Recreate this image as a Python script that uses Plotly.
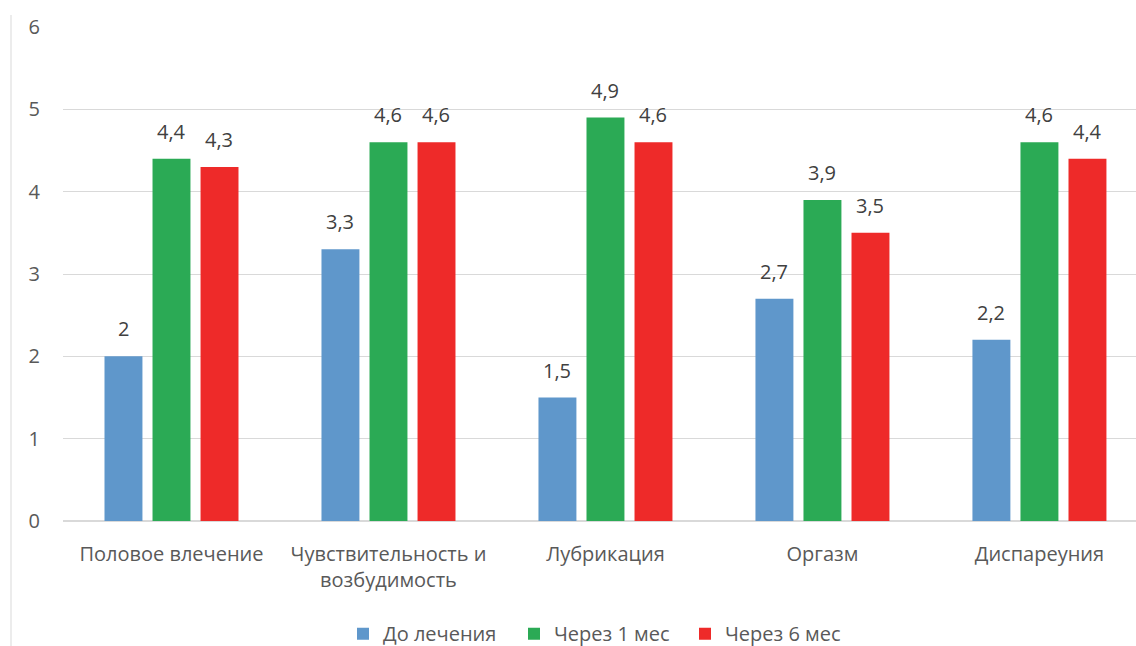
import plotly.graph_objects as go

categories = ["Половое влечение", "Чувствительность и<br>возбудимость", "Лубрикация", "Оргазм", "Диспареуния"]
series_names = ["До лечения", "Через 1 мес", "Через 6 мес"]
before = [2, 3.3, 1.5, 2.7, 2.2]
month1 = [4.4, 4.6, 4.9, 3.9, 4.6]
month6 = [4.3, 4.6, 4.6, 3.5, 4.4]
colors = ["#5F97CB", "#2BAA55", "#EE2A29"]
y_ticks = [0, 1, 2, 3, 4, 5, 6]

FONT = "Open Sans"
FS = 20
fig = go.Figure()
x_idx = list(range(len(categories)))
for name, vals, col in zip(series_names, [before, month1, month6], colors):
    fig.add_trace(go.Bar(x=x_idx, y=vals, name=name, marker=dict(color=col, line=dict(width=0))))

# data labels
annotations = []
for si, vals in enumerate([before, month1, month6]):
    for ci, v in enumerate(vals):
        annotations.append(dict(
            x=ci, y=v, xref="x", yref="y", text=str(v).replace(".", ","),
            showarrow=False, xshift=(si - 1) * 48, yshift=12, yanchor="bottom",
            font=dict(family=FONT, size=FS, color="#404040")))

fig.update_layout(
    width=1136, height=646,
    margin=dict(l=63, r=0, t=27, b=125, autoexpand=False),
    paper_bgcolor="white", plot_bgcolor="white",
    barmode="group", bargap=0.336, bargroupgap=0.21,
    font=dict(family=FONT, size=FS, color="#595959"),
    xaxis=dict(tickmode="array", tickvals=x_idx, ticktext=categories, automargin=False,
               range=[-0.5, 4.445], showgrid=False, showline=False, zeroline=False,
               ticks="", ticklabelstandoff=19, tickfont=dict(size=FS, color="#595959")),
    yaxis=dict(range=[0, 6], tickvals=y_ticks, showgrid=True, gridcolor="#D9D9D9", automargin=False,
               gridwidth=1, zeroline=True, zerolinecolor="#D9D9D9", showline=False,
               ticks="", ticklabelstandoff=22, tickfont=dict(size=FS, color="#595959")),
    legend=dict(orientation="h", x=0.5, xanchor="center", y=-0.228, yanchor="middle",
                font=dict(size=FS, color="#595959"), itemwidth=30, tracegroupgap=0,
                entrywidth=126, entrywidthmode="pixels"),
    annotations=annotations,
    shapes=[dict(type="line", xref="paper", yref="paper",
                 x0=(11 - 63) / 1073, x1=(11 - 63) / 1073, y0=(521 - 15) / 494, y1=(521 - 646) / 494,
                 line=dict(color="#D9D9D9", width=1))],
)

fig.write_html("out.html")
